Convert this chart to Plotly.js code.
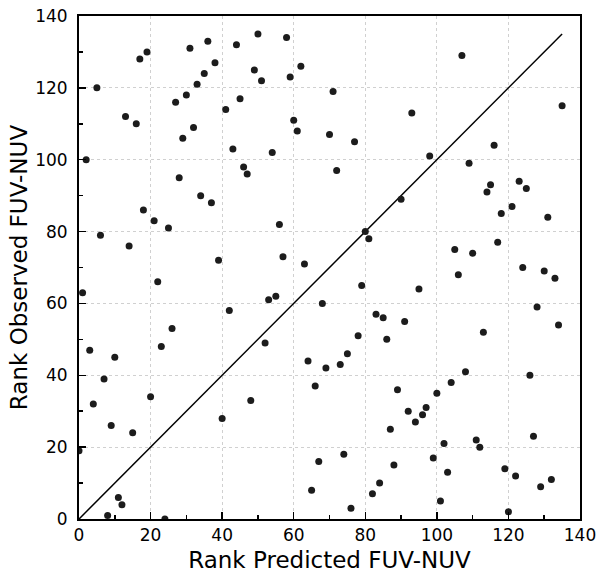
<!DOCTYPE html>
<html>
<head>
<meta charset="utf-8">
<script src="https://cdn.plot.ly/plotly-3.0.1.min.js"></script>
<style>html,body{margin:0;padding:0;background:#fff;}#chart{width:605px;height:587px;}</style>
</head>
<body>
<div id="chart"></div>
<script>
// Rank predicted (x) vs rank observed (y), FUV-NUV
const rankPredicted = [24,8,120,76,12,101,11,82,65,129,84,132,122,103,119,88,67,99,74,0,112,102,111,127,15,87,9,94,40,96,92,97,4,48,20,100,89,66,104,7,126,108,69,73,64,10,75,3,23,52,86,78,113,26,134,91,85,83,42,128,68,53,55,1,95,79,22,133,106,130,124,63,39,57,110,105,14,117,81,6,80,25,56,21,131,118,18,121,37,90,34,114,125,115,123,28,47,72,46,109,2,98,54,43,116,77,29,70,61,32,16,60,13,93,41,135,27,45,30,71,5,33,51,59,35,49,62,38,17,107,19,31,44,36,58,50];
const rankObserved = [0,1,2,3,4,5,6,7,8,9,10,11,12,13,14,15,16,17,18,19,20,21,22,23,24,25,26,27,28,29,30,31,32,33,34,35,36,37,38,39,40,41,42,43,44,45,46,47,48,49,50,51,52,53,54,55,56,57,58,59,60,61,62,63,64,65,66,67,68,69,70,71,72,73,74,75,76,77,78,79,80,81,82,83,84,85,86,87,88,89,90,91,92,93,94,95,96,97,98,99,100,101,102,103,104,105,106,107,108,109,110,111,112,113,114,115,116,117,118,119,120,121,122,123,124,125,126,127,128,129,130,131,132,133,134,135];
const lineX = [0,135];
const lineY = [0,135];
const tickVals = [0,20,40,60,80,100,120,140];
const xTitle = 'Rank Predicted FUV-NUV';
const yTitle = 'Rank Observed FUV-NUV';

const FONT = 'DejaVu Sans, Verdana, sans-serif';
const axisCommon = {
  range:[0,140], tickvals:tickVals, ticks:'inside', ticklen:7, tickwidth:1.5, tickcolor:'#000',
  showline:true, linewidth:2, linecolor:'#000', mirror:true,
  showgrid:true, gridcolor:'#d0d0d0', griddash:'dot', gridwidth:1,
  zeroline:false, tickfont:{family:FONT,size:17,color:'#000'},
  minor:{dtick:10, ticks:'inside', ticklen:4, tickwidth:1.5, tickcolor:'#000', showgrid:false}
};

const data = [
  {x:lineX, y:lineY, mode:'lines', type:'scatter', line:{color:'#000', width:1.5}, hoverinfo:'skip'},
  {x:rankPredicted, y:rankObserved, mode:'markers', type:'scatter', marker:{color:'#1c1c1c', size:7}}
];
const layout = {
  width:605, height:587, showlegend:false,
  paper_bgcolor:'#fff', plot_bgcolor:'#fff',
  margin:{l:79, r:25, t:16, b:68},
  xaxis:Object.assign({}, axisCommon, {title:{text:xTitle, font:{family:FONT,size:23,color:'#000'}, standoff:7}}),
  yaxis:Object.assign({}, axisCommon, {ticklabelstandoff:6, title:{text:yTitle, font:{family:FONT,size:23,color:'#000'}, standoff:1}})
};
Plotly.newPlot('chart', data, layout, {staticPlot:true, displayModeBar:false});
</script>
</body>
</html>
